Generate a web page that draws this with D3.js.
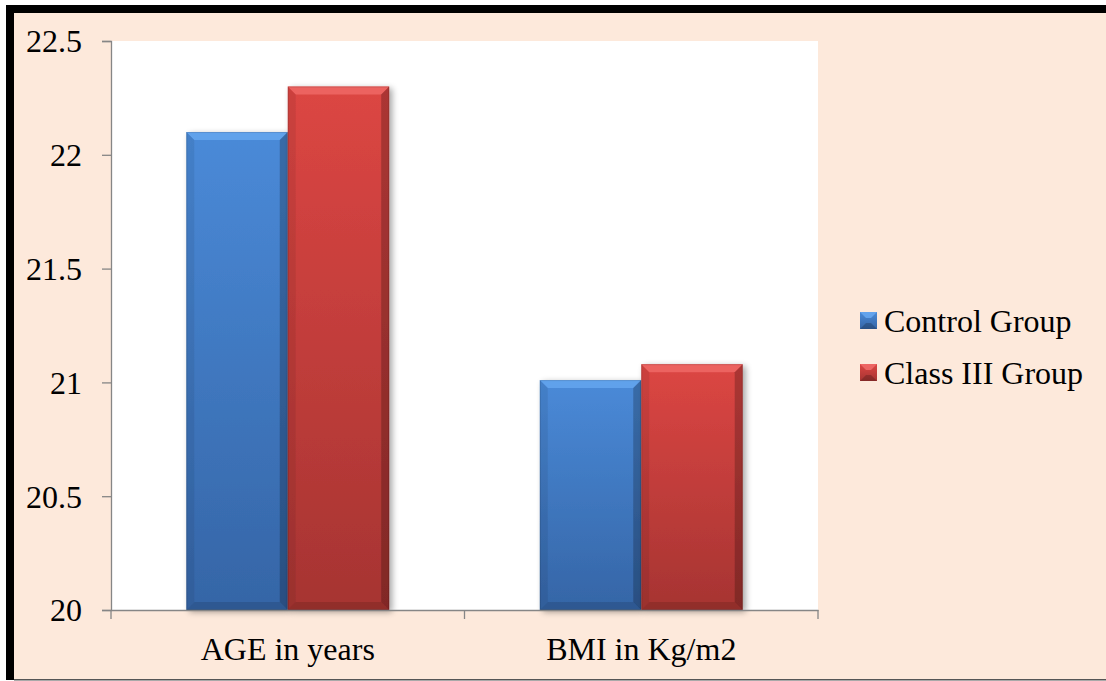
<!DOCTYPE html>
<html>
<head>
<meta charset="utf-8">
<script src="https://cdn.jsdelivr.net/npm/d3@7"></script>
<style>
  html, body { margin: 0; padding: 0; background: #ffffff; }
  svg { display: block; }
  svg text { font-family: "Liberation Serif", "Times New Roman", serif !important; fill: #000; }
</style>
</head>
<body>
<svg id="chart" width="1106" height="681"></svg>
<script>
// ---- data ----
const categories = ["AGE in years", "BMI in Kg/m2"];
const seriesNames = ["Control Group", "Class III Group"];
const controlValues = [22.1, 21.01];
const classIIIValues = [22.3, 21.08];
const yTicks = [20, 20.5, 21, 21.5, 22, 22.5];
const yTickLabels = ["20", "20.5", "21", "21.5", "22", "22.5"];

const seriesValues = [controlValues, classIIIValues];
const seriesColors = [
  { top: "#4A8AD8", bottom: "#3565A6", light: "#6AAAF2" },
  { top: "#DC4643", bottom: "#A63432", light: "#F26E6B" }
];

const W = 1106, H = 681;
const plot = { left: 111, right: 818, top: 41, bottom: 610 };
const SERIF = "'Liberation Serif', 'Times New Roman', serif";

const svg = d3.select("#chart");
const defs = svg.append("defs");

// background frame
svg.append("rect").attr("x", 0).attr("y", 0).attr("width", W).attr("height", H).attr("fill", "#ffffff");
svg.append("rect").attr("x", 6).attr("y", 5).attr("width", W - 6).attr("height", 675).attr("fill", "#000");
svg.append("rect").attr("x", 14).attr("y", 13).attr("width", W - 14).attr("height", 666).attr("fill", "#FDE9DB");
svg.append("rect").attr("x", 14).attr("y", 679).attr("width", W - 14).attr("height", 1.5).attr("fill", "#555");

// plot area
svg.append("rect")
  .attr("x", plot.left).attr("y", plot.top)
  .attr("width", plot.right - plot.left).attr("height", plot.bottom - plot.top)
  .attr("fill", "#ffffff");

// scales
const x0 = d3.scaleBand().domain(categories).range([plot.left, plot.right])
  .paddingInner(0.426).paddingOuter(0.213);
const x1 = d3.scaleBand().domain(seriesNames).range([0, x0.bandwidth()]).padding(0);
const y = d3.scaleLinear().domain([20, 22.5]).range([plot.bottom, plot.top]);

// gradients & shadow
seriesColors.forEach((c, i) => {
  const g = defs.append("linearGradient").attr("id", "grad" + i)
    .attr("x1", 0).attr("y1", 0).attr("x2", 0).attr("y2", 1);
  g.append("stop").attr("offset", "0%").attr("stop-color", c.top);
  g.append("stop").attr("offset", "100%").attr("stop-color", c.bottom);
});
const f = defs.append("filter").attr("id", "shadow").attr("x", "-20%").attr("y", "-20%").attr("width", "140%").attr("height", "140%");
f.append("feGaussianBlur").attr("in", "SourceAlpha").attr("stdDeviation", 3).attr("result", "b");
f.append("feOffset").attr("in", "b").attr("dx", 3).attr("dy", 2).attr("result", "o");
f.append("feComponentTransfer").attr("in", "o").attr("result", "t")
  .append("feFuncA").attr("type", "linear").attr("slope", 0.35);
const fm = f.append("feMerge");
fm.append("feMergeNode").attr("in", "t");
fm.append("feMergeNode").attr("in", "SourceGraphic");

// bars
const bev = 8;
function drawBevelBar(g, x, yTop, w, h, si) {
  const c = seriesColors[si];
  const grp = g.append("g").attr("filter", "url(#shadow)");
  grp.append("rect").attr("x", x).attr("y", yTop).attr("width", w).attr("height", h)
    .attr("fill", `url(#grad${si})`);
  const x2 = x + w, y2 = yTop + h;
  grp.append("path")
    .attr("d", `M${x},${yTop}L${x2},${yTop}L${x2 - bev},${yTop + bev}L${x + bev},${yTop + bev}Z`)
    .attr("fill", c.light).attr("opacity", 0.75);
  grp.append("path")
    .attr("d", `M${x},${yTop}L${x + bev},${yTop + bev}L${x + bev},${y2 - bev}L${x},${y2}Z`)
    .attr("fill", "#000").attr("opacity", 0.07);
  grp.append("path")
    .attr("d", `M${x2},${yTop}L${x2},${y2}L${x2 - bev},${y2 - bev}L${x2 - bev},${yTop + bev}Z`)
    .attr("fill", "#000").attr("opacity", 0.22);
  grp.append("path")
    .attr("d", `M${x},${y2}L${x2},${y2}L${x2 - bev},${y2 - bev}L${x + bev},${y2 - bev}Z`)
    .attr("fill", "#000").attr("opacity", 0.12);
  grp.append("rect").attr("x", x + 0.5).attr("y", yTop + 0.5).attr("width", w - 1).attr("height", h - 1)
    .attr("fill", "none").attr("stroke", "#000").attr("stroke-opacity", 0.12).attr("stroke-width", 1);
}

const barsG = svg.append("g");
categories.forEach((cat, ci) => {
  seriesNames.forEach((s, si) => {
    const v = seriesValues[si][ci];
    const bx = x0(cat) + x1(s);
    const by = y(v);
    drawBevelBar(barsG, bx, by, x1.bandwidth(), y(20) - by, si);
  });
});

// axes
const axisColor = "#868686";
const yAxis = d3.axisLeft(y).tickValues(yTicks).tickSize(9).tickPadding(20)
  .tickFormat((d, i) => yTickLabels[i]);
const yg = svg.append("g").attr("transform", `translate(${plot.left},0)`).call(yAxis)
  .attr("font-family", null).style("font-family", SERIF).attr("font-size", 32);
yg.select(".domain").attr("stroke", axisColor).attr("stroke-width", 1.3);
yg.selectAll(".tick line").attr("stroke", axisColor).attr("stroke-width", 1.3);
yg.selectAll(".tick text").style("font-family", SERIF).style("font-size", "32px")
  .attr("fill", "#000").attr("dy", "0.34em");

const xAxis = d3.axisBottom(x0).tickSize(0).tickPadding(27);
const xg = svg.append("g").attr("transform", `translate(0,${plot.bottom})`).call(xAxis)
  .attr("font-family", null).style("font-family", SERIF).attr("font-size", 32);
xg.select(".domain").attr("stroke", axisColor).attr("stroke-width", 1.3);
xg.selectAll(".tick text").style("font-family", SERIF).style("font-size", "32px").attr("fill", "#000");
const step = x0.step();
const boundaries = [plot.left].concat(categories.map(c => x0(c) - x0.paddingInner() * step / 2 + step));
xg.selectAll(".sep").data(boundaries).enter().append("line")
  .attr("x1", d => d).attr("x2", d => d).attr("y1", 0).attr("y2", 9)
  .attr("stroke", axisColor).attr("stroke-width", 1.3);

// legend
const legend = svg.append("g").attr("transform", "translate(860,312)");
seriesNames.forEach((s, i) => {
  const g = legend.append("g").attr("transform", `translate(0,${i * 52})`);
  g.append("rect").attr("width", 17).attr("height", 17).attr("fill", `url(#grad${i})`);
  g.append("path").attr("d", "M0,0L17,0L11,6L6,6Z").attr("fill", seriesColors[i].light).attr("opacity", 0.8);
  g.append("path").attr("d", "M0,17L17,17L11,11L6,11Z").attr("fill", "#000").attr("opacity", 0.2);
  g.append("text").attr("x", 24).attr("y", 20).style("font-family", SERIF).style("font-size", "32px").text(s);
});
</script>
</body>
</html>
